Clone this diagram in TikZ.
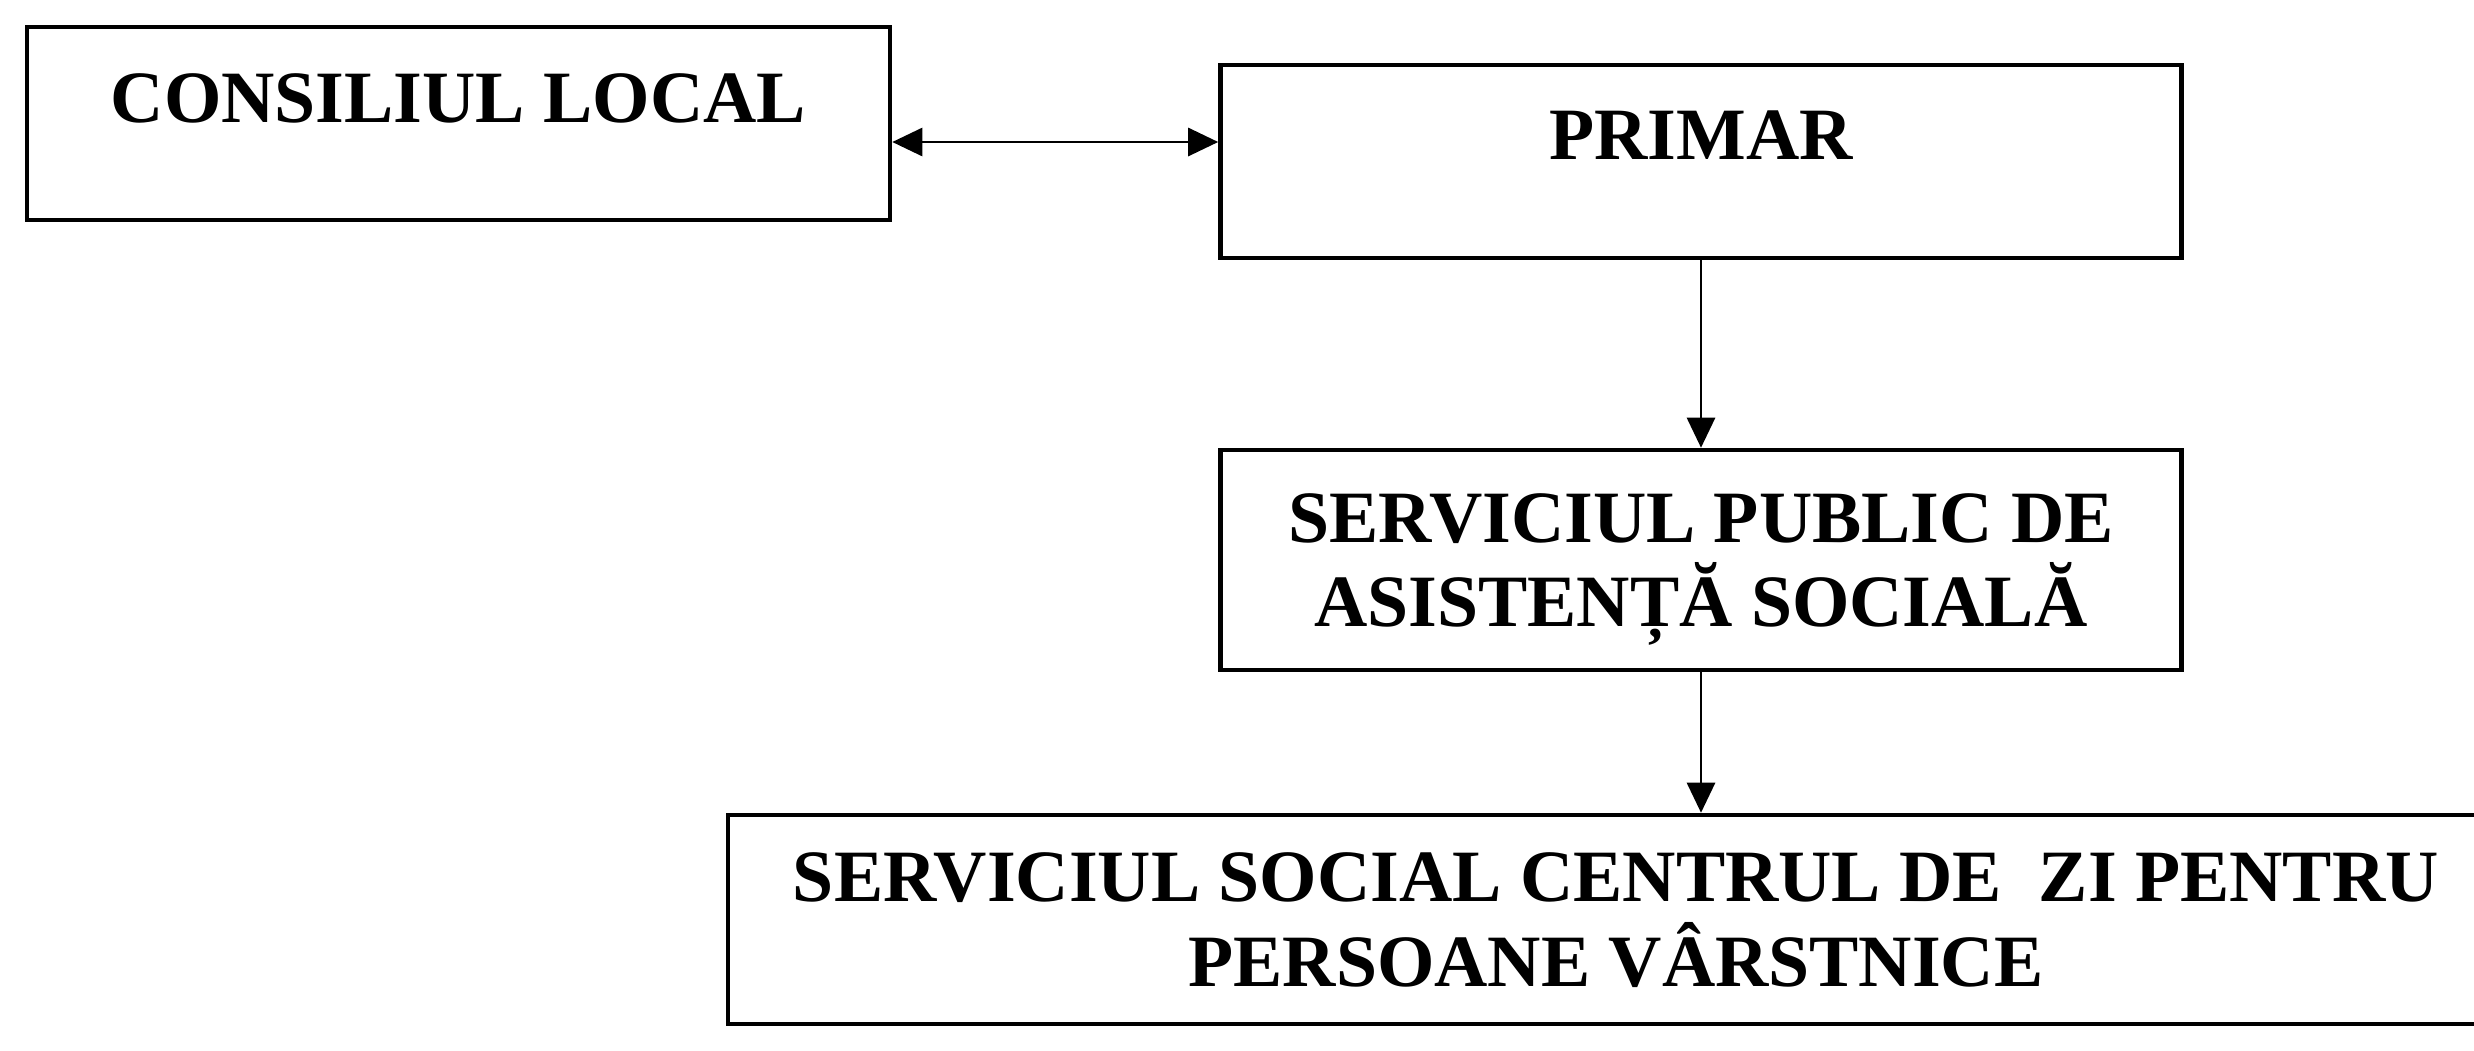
\documentclass[tikz,border=0pt]{standalone}
\usepackage{fontspec}
\setmainfont{Liberation Serif}
\usepackage{tikz}
\usetikzlibrary{arrows.meta}

\begin{document}
\begin{tikzpicture}[
  >={Triangle[length=0.3cm,width=0.28cm]},
  box/.style={draw,line width=1.3pt,inner sep=0pt,align=center,
    font=\bfseries\fontsize{21}{24}\selectfont},
  link/.style={line width=0.8pt}
]
\useasboundingbox (0,0) rectangle (24.74,-10.5);

\node[box,minimum width=8.63cm,minimum height=1.93cm,text height=0.49cm,text depth=0.52cm] (consiliu) at (4.585,-1.235) {CONSILIUL LOCAL};
\node[box,minimum width=9.61cm,minimum height=1.93cm,text height=0.49cm,text depth=0.54cm] (primar) at (17.01,-1.615) {PRIMAR};
\node[box,minimum width=9.61cm,minimum height=2.2cm,text depth=0pt] (spas) at (17.01,-5.6) {SERVICIUL PUBLIC DE\\ASISTENȚĂ SOCIALĂ};
\node[box,minimum width=17.76cm,minimum height=2.09cm,text depth=0pt] (centru) at (16.16,-9.195) {SERVICIUL SOCIAL CENTRUL DE\ \ ZI PENTRU\\PERSOANE VÂRSTNICE};

\coordinate (nivel) at (0,-1.42);
\draw[link,<->] (consiliu.east |- nivel) -- (primar.west |- nivel);
\draw[link,->] (primar.south) -- (spas.north);
\draw[link,->] (spas.south) -- (spas.south |- centru.north);
\end{tikzpicture}
\end{document}
